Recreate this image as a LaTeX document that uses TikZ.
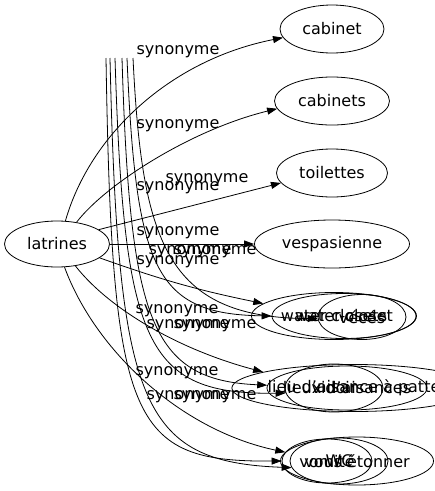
\documentclass[tikz,border=0pt]{standalone}
\usepackage{fontspec}
\setmainfont{DejaVu Sans}
\usetikzlibrary{shapes.geometric,arrows.meta}
\begin{document}
\begin{tikzpicture}[x=1pt,y=-1pt,
  nd/.style={ellipse,draw,line width=0.8pt,inner sep=0pt,font=\fontsize{16}{19}\selectfont},
  lbl/.style={inner sep=0pt,font=\fontsize{16}{19}\selectfont},
  ed/.style={line width=0.8pt,-{Triangle[length=10pt,width=7pt]}}]
\useasboundingbox (0,0) rectangle (435,491);
% nodes
\node[nd,minimum width=105pt,minimum height=46pt] (latrines) at (57,244) {latrines};
\node[nd,minimum width=104pt,minimum height=48pt] (cabinet) at (332,29) {cabinet};
\node[nd,minimum width=115pt,minimum height=48pt] (cabinets) at (332,101) {cabinets};
\node[nd,minimum width=111pt,minimum height=48pt] (toilettes) at (332,173) {toilettes};
\node[nd,minimum width=155pt,minimum height=48pt] (vesp) at (332,244) {vespasienne};
\node[nd,minimum width=165pt,minimum height=47pt] (wc1) at (334,316) {water-closets};
\node[nd,minimum width=144pt,minimum height=45pt,inner xsep=-3pt] (wc2) at (344,316) {water-closet};
\node[nd,minimum width=88pt,minimum height=45pt] (wc3) at (362,317) {vécés};
\node[nd,minimum width=240pt,minimum height=47pt] (la) at (354,388) {lieu d'aisance à patte};
\node[nd,minimum width=160pt,minimum height=44pt,inner xsep=-8pt] (lb) at (347,388) {lieux d'aisances};
\node[nd,minimum width=98pt,minimum height=48pt] (lc) at (334,388) {vidoir};
\node[nd,minimum width=153pt,minimum height=48pt] (ba) at (357,461) {vous étonner};
\node[nd,minimum width=98pt,minimum height=46pt] (bb) at (339,461) {WC};
\node[nd,minimum width=90pt,minimum height=44pt] (bc) at (327,461) {vomité};
% free edge starts
\coordinate (v1) at (106,58);
\coordinate (v2) at (110,58);
\coordinate (v3) at (115,58);
\coordinate (v4) at (122,58);
\coordinate (v5) at (127,58);
\coordinate (v6) at (133,58);
% edges from latrines
\draw[ed] (latrines.70) .. controls (90,135) and (170,60) .. (cabinet.190);
\draw[ed] (latrines.48) .. controls (105,185) and (190,130) .. (cabinets.188);
\draw[ed] (latrines.19) -- (toilettes.191);
\draw[ed] (latrines.east) -- (vesp.west);
\draw[ed] (latrines.342) to[bend right=4] (wc1.170);
\draw[ed] (latrines.310) .. controls (110,310) and (180,350) .. (la.170);
\draw[ed] (latrines.288) .. controls (95,350) and (180,430) .. (ba.173);
% edges with free starts
\draw[ed] (v6) .. controls (142,240) and (165,318) .. (wc3.182);
\draw[ed] (v5) .. controls (136,270) and (155,314) .. (wc2.west);
\draw[ed] (v4) .. controls (130,320) and (150,380) .. (lb.178);
\draw[ed] (v3) .. controls (124,345) and (145,395) .. (lc.186);
\draw[ed] (v2) .. controls (118,405) and (140,462) .. (bb.188);
\draw[ed] (v1) .. controls (112,425) and (130,462) .. (bc.west);
% labels
\node[lbl] (s1) at (178,52) {synonyme};
\node[lbl] (s2) at (178,126) {synonyme};
\node[lbl] (s3) at (178,188) {synonyme};
\node[lbl] (s3b) at (207,180) {synonyme};
\node[lbl] (s4) at (178,233) {synonyme};
\node[lbl] (s5a) at (190,252) {synonyme};
\node[lbl] (s5b) at (215,252) {synonyme};
\node[lbl] (s5) at (178,262) {synonyme};
\node[lbl] (s6) at (177,311) {synonyme};
\node[lbl] (s6a) at (188,326) {synonyme};
\node[lbl] (s6b) at (215,326) {synonyme};
\node[lbl] (s7) at (177,373) {synonyme};
\node[lbl] (s7a) at (188,397) {synonyme};
\node[lbl] (s7b) at (215,397) {synonyme};
\end{tikzpicture}
\end{document}
